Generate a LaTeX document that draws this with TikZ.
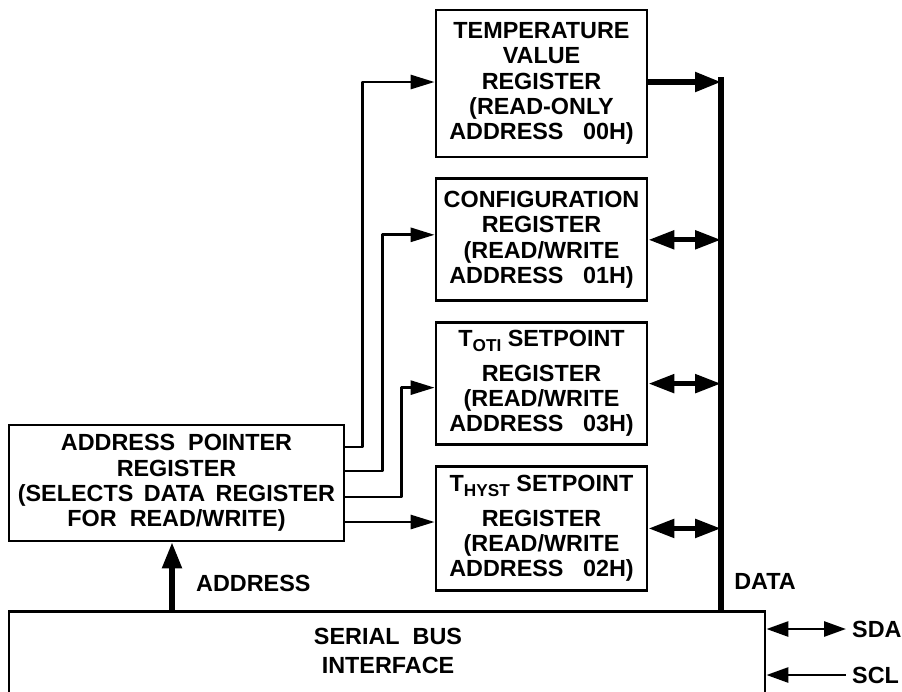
\documentclass[tikz,border=0pt]{standalone}
\usepackage{fontspec}
\setmainfont{Liberation Sans}
\usetikzlibrary{positioning,arrows.meta}

\newcommand{\regsub}[1]{\raisebox{-2.8pt}{\fontsize{9.8}{10}\selectfont #1}}

\begin{document}
\begin{tikzpicture}[
    regBox/.style={draw, line width=1.6pt, align=center},
    regWidth/.style={minimum width=4.22cm},
    wire/.style={line width=1.6pt, line join=round},
    busLine/.style={line width=3pt},
    thinTip/.style={-{Triangle[length=0.48cm, width=0.28cm]}},
    thickTip/.style={-{Triangle[length=0.52cm, width=0.38cm]}},
    bothTip/.style={{Triangle[length=0.52cm, width=0.36cm]}-{Triangle[length=0.52cm, width=0.36cm]}},
    every node/.style={
        font=\bfseries\fontsize{13.3}{14.4}\selectfont,
        text centered,
        }
        ]
    \path[use as bounding box, clip] (0,0) rectangle (18.04,-13.82);

    % register stack
    \node[regBox, regWidth, minimum height=2.94cm] (temp) at (10.83,-1.67) {TEMPERATURE\\VALUE\\REGISTER\\(READ-ONLY\\ADDRESS\ \ \ 00H)};
    \node[regBox, regWidth, minimum height=2.44cm, below=0.38cm of temp] (config) {CONFIGURATION\\REGISTER\\(READ/WRITE\\ADDRESS\ \ \ 01H)};
    \node[regBox, regWidth, minimum height=2.44cm, below=0.38cm of config] (toti) {T\regsub{OTI} SETPOINT\\[0.18cm]REGISTER\\(READ/WRITE\\ADDRESS\ \ \ 03H)};
    \node[regBox, regWidth, minimum height=2.48cm, below=0.38cm of toti] (thyst) {T\regsub{HYST} SETPOINT\\[0.18cm]REGISTER\\(READ/WRITE\\ADDRESS\ \ \ 02H)};

    \node[regBox, minimum width=6.7cm, minimum height=2.32cm] (addr) at (3.53,-9.66) {ADDRESS\ \ POINTER\\REGISTER\\(SELECTS\ \,DATA\ \,REGISTER\\FOR\ \ READ/WRITE)};

    \node[regBox, minimum width=15.12cm, minimum height=2.4cm, anchor=north] (serial) at (7.74,-12.2) {};
    \node[align=center] (serialtext) at (7.76,-13.02) {SERIAL\ \ BUS\\[0.08cm]INTERFACE};

    % address pointer outputs
    \coordinate (w1) at ([yshift=0.72cm]addr.east);
    \coordinate (w2) at ([yshift=0.24cm]addr.east);
    \coordinate (w3) at ([yshift=-0.28cm]addr.east);
    \coordinate (w4) at ([yshift=-0.78cm]addr.east);

    \draw[wire, thinTip] (w1) -- ++(0.34,0) |- ([yshift=0.03cm]temp.west);
    \draw[wire, thinTip] (w2) -- ++(0.74,0) |- ([yshift=0.1cm]config.west);
    \draw[wire, thinTip] (w3) -- ++(1.12,0) |- ([yshift=-0.08cm]toti.west);
    \draw[wire, thinTip] (w4) -- (w4 -| thyst.west);

    % data bus
    \coordinate (bustop) at (14.42,-1.54);
    \draw[busLine] (bustop) -- (bustop |- serial.north);
    \draw[busLine, thickTip] ([yshift=0.03cm]temp.east) -- ([yshift=0.03cm]temp.east -| bustop);
    \draw[busLine, bothTip] (config.east) -- (config.east -| bustop);
    \draw[busLine, bothTip] (toti.east) -- (toti.east -| bustop);
    \draw[busLine, bothTip] (thyst.east) -- (thyst.east -| bustop);
    \node (data) at (15.3,-11.62) {DATA};

    % address path
    \coordinate (addrfoot) at (3.44,-12.2);
    \draw[busLine, thickTip] (addrfoot) -- (addrfoot |- addr.south);
    \node[anchor=west] (addrlabel) at (3.8,-11.66) {ADDRESS};

    % serial lines
    \node[anchor=west] (sda) at (16.92,-12.58) {SDA};
    \node[anchor=west] (scl) at (16.92,-13.5) {SCL};
    \draw[wire, {Triangle[length=0.44cm, width=0.3cm]}-{Triangle[length=0.44cm, width=0.3cm]}] (serial.east |- sda.west) -- (sda.west);
    \draw[wire, {Triangle[length=0.44cm, width=0.3cm]}-] (serial.east |- scl.west) -- (scl.west);
\end{tikzpicture}
\end{document}
